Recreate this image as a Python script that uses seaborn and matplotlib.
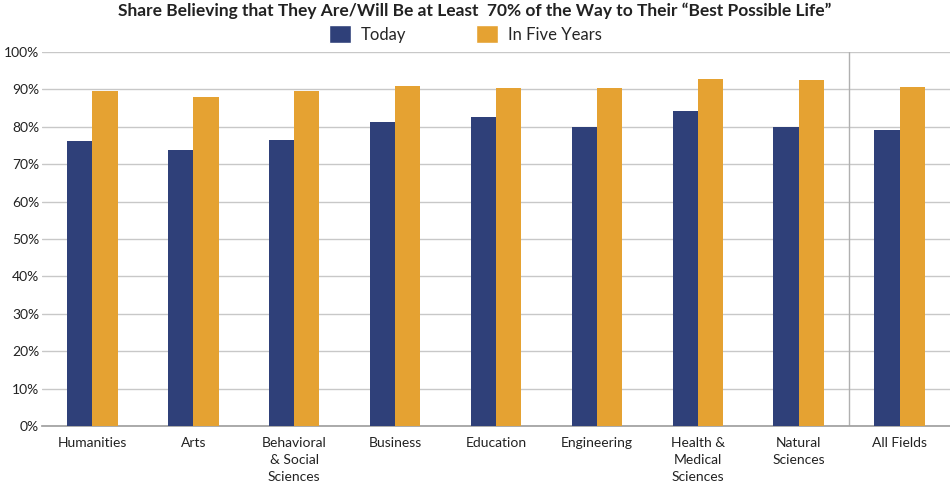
import seaborn as sns
import matplotlib.pyplot as plt
import pandas as pd
from matplotlib.ticker import PercentFormatter
from matplotlib.patches import Patch

# datos
categorias = ['Humanities', 'Arts', 'Behavioral\n& Social\nSciences', 'Business', 'Education',
              'Engineering', 'Health &\nMedical\nSciences', 'Natural\nSciences', 'All Fields']
hoy = [76.2, 73.7, 76.6, 81.3, 82.5, 80.0, 84.3, 80.0, 79.1]
cinco_anos = [89.5, 88.0, 89.6, 90.8, 90.3, 90.5, 92.7, 92.4, 90.6]
series = ['Today', 'In Five Years']
colores = ['#2f4079', '#e5a232']

df = pd.DataFrame({
    'categoria': categorias * 2,
    'valor': hoy + cinco_anos,
    'serie': [series[0]] * len(categorias) + [series[1]] * len(categorias),
})

sns.set_theme(style='white')
plt.rcParams['font.family'] = ['Lato', 'DejaVu Sans']

fig = plt.figure(figsize=(9.5, 4.88), dpi=100)
ax = fig.add_axes([42 / 950, 1 - 426 / 488, 908 / 950, 374 / 488])

sns.barplot(data=df, x='categoria', y='valor', hue='serie', palette=colores,
            width=0.5, saturation=1, ax=ax, legend=False, zorder=3, linewidth=0)

ax.set_ylim(0, 100)
ax.set_xlim(-0.5, len(categorias) - 0.5)
ax.set_yticks(range(0, 101, 10))
ax.yaxis.set_major_formatter(PercentFormatter(decimals=0))
ax.grid(axis='y', color='#c8c8c8', linewidth=1, zorder=0)
ax.axvline(len(categorias) - 1.5, color='#b0b0b0', linewidth=1, zorder=1)
ax.set_xlabel('')
ax.set_ylabel('')
for lado in ['left', 'right', 'top']:
    ax.spines[lado].set_visible(False)
ax.spines['bottom'].set_color('#a0a0a0')
ax.tick_params(axis='both', length=0, labelsize=10, colors='#222222')
ax.tick_params(axis='y', pad=2)
ax.tick_params(axis='x', pad=8)
for lbl in ax.get_xticklabels():
    lbl.set_linespacing(1.5)
    lbl.set_verticalalignment('top')

fig.text(0.5, 1 - 11 / 488, 'Share Believing that They Are/Will Be at Least  70% of the Way to Their \u201cBest Possible Life\u201d',
         ha='center', va='center', fontsize=12.5, fontweight='bold', color='#222222')

handles = [Patch(facecolor=c, label=s) for c, s in zip(colores, series)]
fig.legend(handles=handles, loc='center', bbox_to_anchor=(0.49, 1 - 34 / 488), ncol=2,
           frameon=False, fontsize=12, handlelength=1.3, handleheight=1.3,
           columnspacing=4.2, handletextpad=0.6)

fig.savefig('out.png', dpi=100)
